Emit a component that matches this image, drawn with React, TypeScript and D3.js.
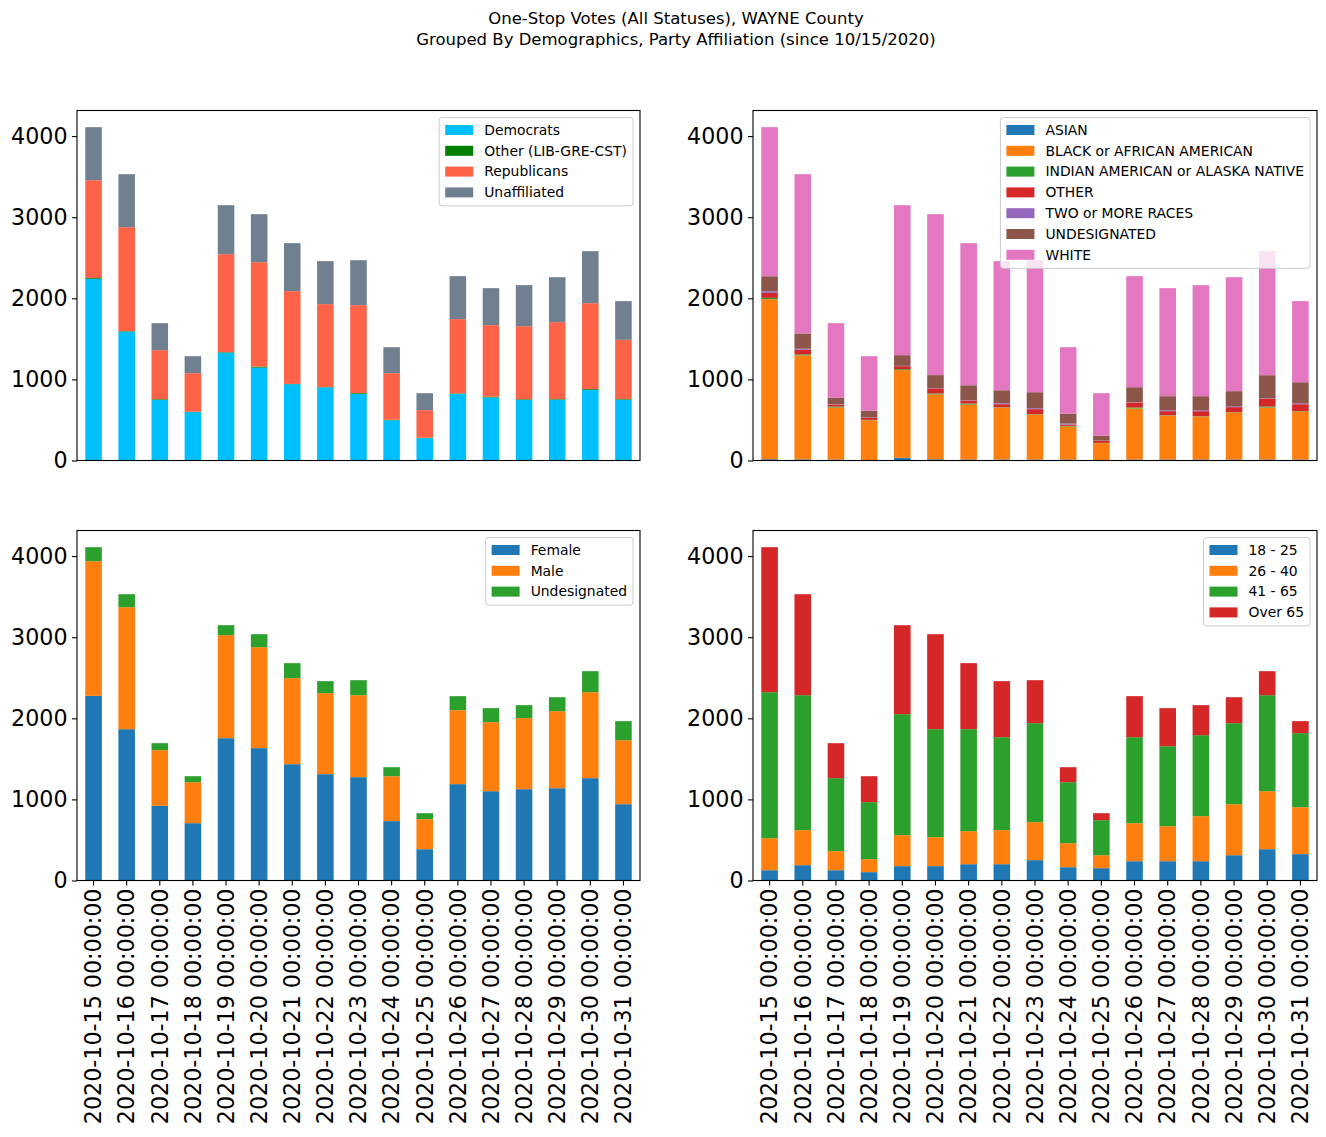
import { useEffect, useRef } from 'react';
import * as d3 from 'd3';

const DATES = [
  '2020-10-15 00:00:00', '2020-10-16 00:00:00', '2020-10-17 00:00:00', '2020-10-18 00:00:00',
  '2020-10-19 00:00:00', '2020-10-20 00:00:00', '2020-10-21 00:00:00', '2020-10-22 00:00:00',
  '2020-10-23 00:00:00', '2020-10-24 00:00:00', '2020-10-25 00:00:00', '2020-10-26 00:00:00',
  '2020-10-27 00:00:00', '2020-10-28 00:00:00', '2020-10-29 00:00:00', '2020-10-30 00:00:00',
  '2020-10-31 00:00:00',
];

// party
const DEMOCRATS = [2240, 1590, 748, 598, 1330, 1145, 940, 902, 822, 496, 275, 822, 778, 748, 750, 870, 750];
const OTHER_PARTY = [10, 6, 8, 3, 6, 12, 4, 3, 9, 6, 5, 6, 8, 8, 7, 10, 7];
const REPUBLICANS = [1206, 1281, 604, 476, 1208, 1288, 1144, 1023, 1084, 575, 341, 915, 883, 900, 949, 1060, 731];
const UNAFFILIATED = [654, 653, 333, 209, 604, 592, 592, 530, 555, 320, 209, 530, 456, 506, 554, 641, 477];

// race
const ASIAN = [16, 14, 12, 4, 33, 14, 12, 12, 12, 12, 4, 12, 12, 12, 12, 12, 12];
const BLACK = [1973, 1282, 641, 493, 1081, 801, 678, 641, 555, 407, 210, 629, 543, 530, 580, 641, 592];
const INDIAN = [16, 12, 12, 4, 12, 12, 12, 4, 4, 8, 3, 12, 4, 4, 4, 12, 4];
const OTHER_RACE = [62, 58, 25, 25, 37, 62, 37, 37, 62, 16, 25, 62, 49, 62, 62, 99, 86];
const TWO_OR_MORE = [20, 12, 4, 3, 4, 4, 4, 12, 12, 12, 3, 4, 12, 12, 12, 4, 12];
const UNDES_RACE = [185, 189, 82, 86, 132, 160, 185, 160, 197, 123, 62, 185, 173, 173, 185, 284, 259];
const WHITE = [1838, 1963, 917, 671, 1849, 1984, 1752, 1592, 1628, 819, 523, 1369, 1332, 1369, 1405, 1529, 1000];

// gender
const FEMALE = [2277, 1866, 921, 707, 1755, 1632, 1434, 1311, 1274, 732, 386, 1188, 1101, 1126, 1138, 1262, 941];
const MALE = [1660, 1504, 686, 505, 1270, 1245, 1061, 999, 1011, 554, 370, 912, 851, 876, 950, 1060, 789];
const UNDES_GENDER = [173, 160, 86, 74, 123, 160, 185, 148, 185, 111, 74, 173, 173, 160, 172, 259, 235];

// age
const AGE_18_25 = [127, 189, 127, 103, 177, 177, 201, 201, 251, 164, 152, 238, 238, 238, 312, 386, 325];
const AGE_26_40 = [395, 432, 235, 160, 382, 357, 407, 420, 468, 296, 160, 469, 432, 555, 629, 715, 579];
const AGE_41_65 = [1800, 1664, 900, 703, 1492, 1332, 1258, 1146, 1221, 752, 432, 1060, 986, 999, 999, 1184, 913];
const AGE_OVER_65 = [1788, 1245, 431, 320, 1097, 1171, 814, 691, 530, 185, 86, 506, 469, 370, 320, 296, 148];

const Y_TICKS = [0, 1000, 2000, 3000, 4000];

const W = 1326;
const H = 1137;
const FONT = '"DejaVu Sans", sans-serif';

interface Series {
  name: string;
  color: string;
  values: number[];
}

interface Panel {
  x0: number;
  x1: number;
  y0: number;
  y1: number;
  series: Series[];
  showX: boolean;
}

const PANELS: Panel[] = [
  {
    x0: 77, x1: 640, y0: 110.5, y1: 460.5, showX: false,
    series: [
      { name: 'Democrats', color: '#00bfff', values: DEMOCRATS },
      { name: 'Other (LIB-GRE-CST)', color: '#008000', values: OTHER_PARTY },
      { name: 'Republicans', color: '#ff6347', values: REPUBLICANS },
      { name: 'Unaffiliated', color: '#708090', values: UNAFFILIATED },
    ],
  },
  {
    x0: 753, x1: 1317, y0: 110.5, y1: 460.5, showX: false,
    series: [
      { name: 'ASIAN', color: '#1f77b4', values: ASIAN },
      { name: 'BLACK or AFRICAN AMERICAN', color: '#ff7f0e', values: BLACK },
      { name: 'INDIAN AMERICAN or ALASKA NATIVE', color: '#2ca02c', values: INDIAN },
      { name: 'OTHER', color: '#d62728', values: OTHER_RACE },
      { name: 'TWO or MORE RACES', color: '#9467bd', values: TWO_OR_MORE },
      { name: 'UNDESIGNATED', color: '#8c564b', values: UNDES_RACE },
      { name: 'WHITE', color: '#e377c2', values: WHITE },
    ],
  },
  {
    x0: 77, x1: 640, y0: 530.5, y1: 880.5, showX: true,
    series: [
      { name: 'Female', color: '#1f77b4', values: FEMALE },
      { name: 'Male', color: '#ff7f0e', values: MALE },
      { name: 'Undesignated', color: '#2ca02c', values: UNDES_GENDER },
    ],
  },
  {
    x0: 753, x1: 1317, y0: 530.5, y1: 880.5, showX: true,
    series: [
      { name: '18 - 25', color: '#1f77b4', values: AGE_18_25 },
      { name: '26 - 40', color: '#ff7f0e', values: AGE_26_40 },
      { name: '41 - 65', color: '#2ca02c', values: AGE_41_65 },
      { name: 'Over 65', color: '#d62728', values: AGE_OVER_65 },
    ],
  },
];

export default function App() {
  const svgRef = useRef<SVGSVGElement>(null);

  useEffect(() => {
    if (!svgRef.current) return;
    const svg = d3.select(svgRef.current);
    svg.selectAll('*').remove();

    // Title (figure suptitle, slightly right of page centre in the reference)
    const title = svg.append('text')
      .attr('text-anchor', 'middle')
      .attr('font-family', FONT)
      .attr('font-size', 16.5)
      .attr('fill', '#000');
    title.append('tspan').attr('x', 676).attr('y', 24).text('One-Stop Votes (All Statuses), WAYNE County');
    title.append('tspan').attr('x', 676).attr('y', 45).text('Grouped By Demographics, Party Affiliation (since 10/15/2020)');

    PANELS.forEach(p => {
      const n = DATES.length;
      const totals = DATES.map((_, i) => d3.sum(p.series, s => s.values[i]));
      const yMax = (d3.max(totals) ?? 0) * 1.05;

      const x = d3.scaleBand<string>()
        .domain(DATES)
        .range([p.x0, p.x1])
        .paddingInner(0.5)
        .paddingOuter(0.25);
      const y = d3.scaleLinear([0, yMax], [p.y1, p.y0]);

      const stack = d3.stack<number>()
        .keys(p.series.map((_, k) => String(k)))
        .value((i, key) => p.series[+key].values[i]);
      const layers = stack(d3.range(n));

      const g = svg.append('g');
      layers.forEach((layer, k) => {
        g.append('g')
          .attr('fill', p.series[k].color)
          .selectAll('rect')
          .data(layer)
          .join('rect')
          .attr('x', (_, i) => x(DATES[i]) ?? 0)
          .attr('width', x.bandwidth())
          .attr('y', d => y(d[1]))
          .attr('height', d => Math.max(0, y(d[0]) - y(d[1])));
      });

      // spines
      g.append('rect')
        .attr('x', p.x0).attr('y', p.y0)
        .attr('width', p.x1 - p.x0).attr('height', p.y1 - p.y0)
        .attr('fill', 'none').attr('stroke', '#000').attr('stroke-width', 1.1);

      // y axis
      g.append('g')
        .attr('transform', `translate(${p.x0},0)`)
        .call(d3.axisLeft(y).tickValues(Y_TICKS).tickSize(5).tickPadding(4.5).tickFormat(d => String(d)))
        .call(a => {
          a.select('.domain').remove();
          a.selectAll('.tick line').attr('stroke', '#000').attr('stroke-width', 1.1);
          a.selectAll('text').attr('font-family', FONT).attr('font-size', 22.2).attr('fill', '#000');
        });

      // x axis
      if (p.showX) {
        g.append('g')
          .attr('transform', `translate(0,${p.y1})`)
          .call(d3.axisBottom(x).tickSize(5).tickPadding(0))
          .call(a => {
            a.select('.domain').remove();
            a.selectAll('.tick line').attr('stroke', '#000').attr('stroke-width', 1.1);
            a.selectAll('text')
              .attr('font-family', FONT)
              .attr('font-size', 22.2)
              .attr('fill', '#000')
              .attr('text-anchor', 'end')
              .attr('transform', 'rotate(-90)')
              .attr('x', -8)
              .attr('y', 0)
              .attr('dy', '0.35em');
          });
      }

      // legend
      const fs = 13.9;
      const rowH = 20.8;
      const lg = g.append('g');
      const frame = lg.append('rect');
      const texts = p.series.map(s =>
        lg.append('text')
          .attr('font-family', FONT)
          .attr('font-size', fs)
          .attr('fill', '#000')
          .attr('dy', '0.35em')
          .text(s.name),
      );
      const maxW = d3.max(texts, t => (t.node() as SVGTextElement).getComputedTextLength()) ?? 0;
      const boxW = 6 + 28 + 11 + maxW + 6;
      const boxH = 12.5 + (p.series.length - 1) * rowH + 13.5;
      const bx = p.x1 - 7 - boxW;
      const by = p.y0 + 7;
      frame
        .attr('x', bx).attr('y', by)
        .attr('width', boxW).attr('height', boxH)
        .attr('rx', 3)
        .attr('fill', '#fff').attr('fill-opacity', 0.8)
        .attr('stroke', '#cccccc').attr('stroke-width', 1);
      p.series.forEach((s, k) => {
        const cy = by + 12.5 + k * rowH;
        lg.append('rect')
          .attr('x', bx + 6).attr('y', cy - 5)
          .attr('width', 28).attr('height', 10)
          .attr('fill', s.color);
        texts[k].attr('x', bx + 6 + 28 + 11).attr('y', cy);
      });
    });
  }, []);

  return (
    <div style={{ position: 'absolute', left: 0, top: 0, background: '#fff' }}>
      <svg ref={svgRef} width={W} height={H} style={{ display: 'block' }} />
    </div>
  );
}
